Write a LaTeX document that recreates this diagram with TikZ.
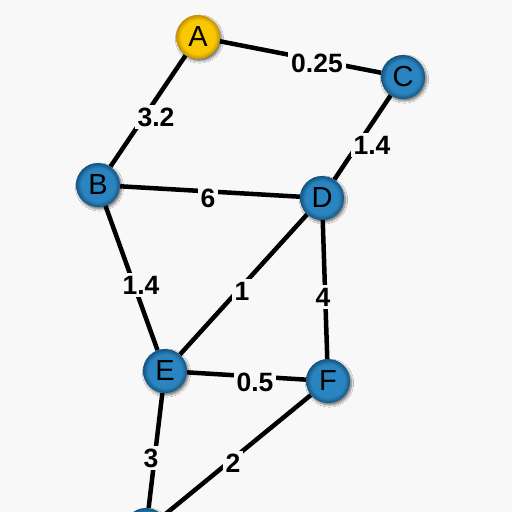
\documentclass[tikz,border=0pt]{standalone}
\usepackage{fontspec}
\setmainfont{Liberation Sans}
\usetikzlibrary{shadows.blur}
\definecolor{bgc}{RGB}{248,248,248}
\definecolor{bluein}{RGB}{42,132,192}
\definecolor{blueout}{RGB}{20,84,130}
\definecolor{yelin}{RGB}{250,200,0}
\definecolor{yelout}{RGB}{196,146,0}
\pgfdeclareradialshading{bluesh}{\pgfpoint{0bp}{0bp}}{color(0bp)=(bluein); color(19bp)=(bluein); color(25bp)=(blueout); color(50bp)=(blueout)}
\pgfdeclareradialshading{yelsh}{\pgfpoint{0bp}{0bp}}{color(0bp)=(yelin); color(19bp)=(yelin); color(25bp)=(yelout); color(50bp)=(yelout)}
\pgfdeclarelayer{background}
\pgfsetlayers{background,main}
\begin{document}
\begin{tikzpicture}[x=1pt,y=-1pt,
  vtx/.style={circle, minimum size=44pt, inner sep=0pt,
    font=\fontsize{29}{29}\selectfont,
    blur shadow={shadow xshift=1.5pt, shadow yshift=-2pt, shadow blur steps=6, shadow opacity=55}},
  bluev/.style={vtx, shade, shading=bluesh},
  yelv/.style={vtx, shade, shading=yelsh},
  wedge/.style={line width=4.5pt, black},
  wlabel/.style={fill=bgc, inner sep=3pt, font=\bfseries\fontsize{26.5}{26.5}\selectfont}]
\useasboundingbox (0,0) rectangle (512,512);
\clip (0,0) rectangle (512,512);
% vertices
\node[yelv] (A) at (198,37) {A};
\node[bluev] (C) at (403,77) {C};
\node[bluev] (B) at (98,185) {B};
\node[bluev] (D) at (322,198) {D};
\node[bluev] (E) at (165,371) {E};
\node[bluev] (F) at (328,381) {F};
\node[bluev] (G) at (146,530) {};
% edges
\begin{pgfonlayer}{background}
\fill[bgc] (0,0) rectangle (512,512);
\draw[wedge] (A) -- (C);
\draw[wedge] (A) -- (B);
\draw[wedge] (C) -- (D);
\draw[wedge] (B) -- (D);
\draw[wedge] (B) -- (E);
\draw[wedge] (D) -- (E);
\draw[wedge] (D) -- (F);
\draw[wedge] (E) -- (F);
\draw[wedge] (E) -- (G);
\draw[wedge] (F) -- (G);
\end{pgfonlayer}
% labels
\node[wlabel] (lAC) at (317,63) {0.25};
\node[wlabel] (lAB) at (156,117) {3.2};
\node[wlabel] (lCD) at (372,145) {1.4};
\node[wlabel] (lBD) at (208,198) {6};
\node[wlabel] (lBE) at (141,285) {1.4};
\node[wlabel] (lDE) at (242,291) {1};
\node[wlabel] (lDF) at (323,297) {4};
\node[wlabel] (lEF) at (255,382) {0.5};
\node[wlabel] (lEG) at (151,458) {3};
\node[wlabel] (lFG) at (233,463) {2};
\end{tikzpicture}
\end{document}
